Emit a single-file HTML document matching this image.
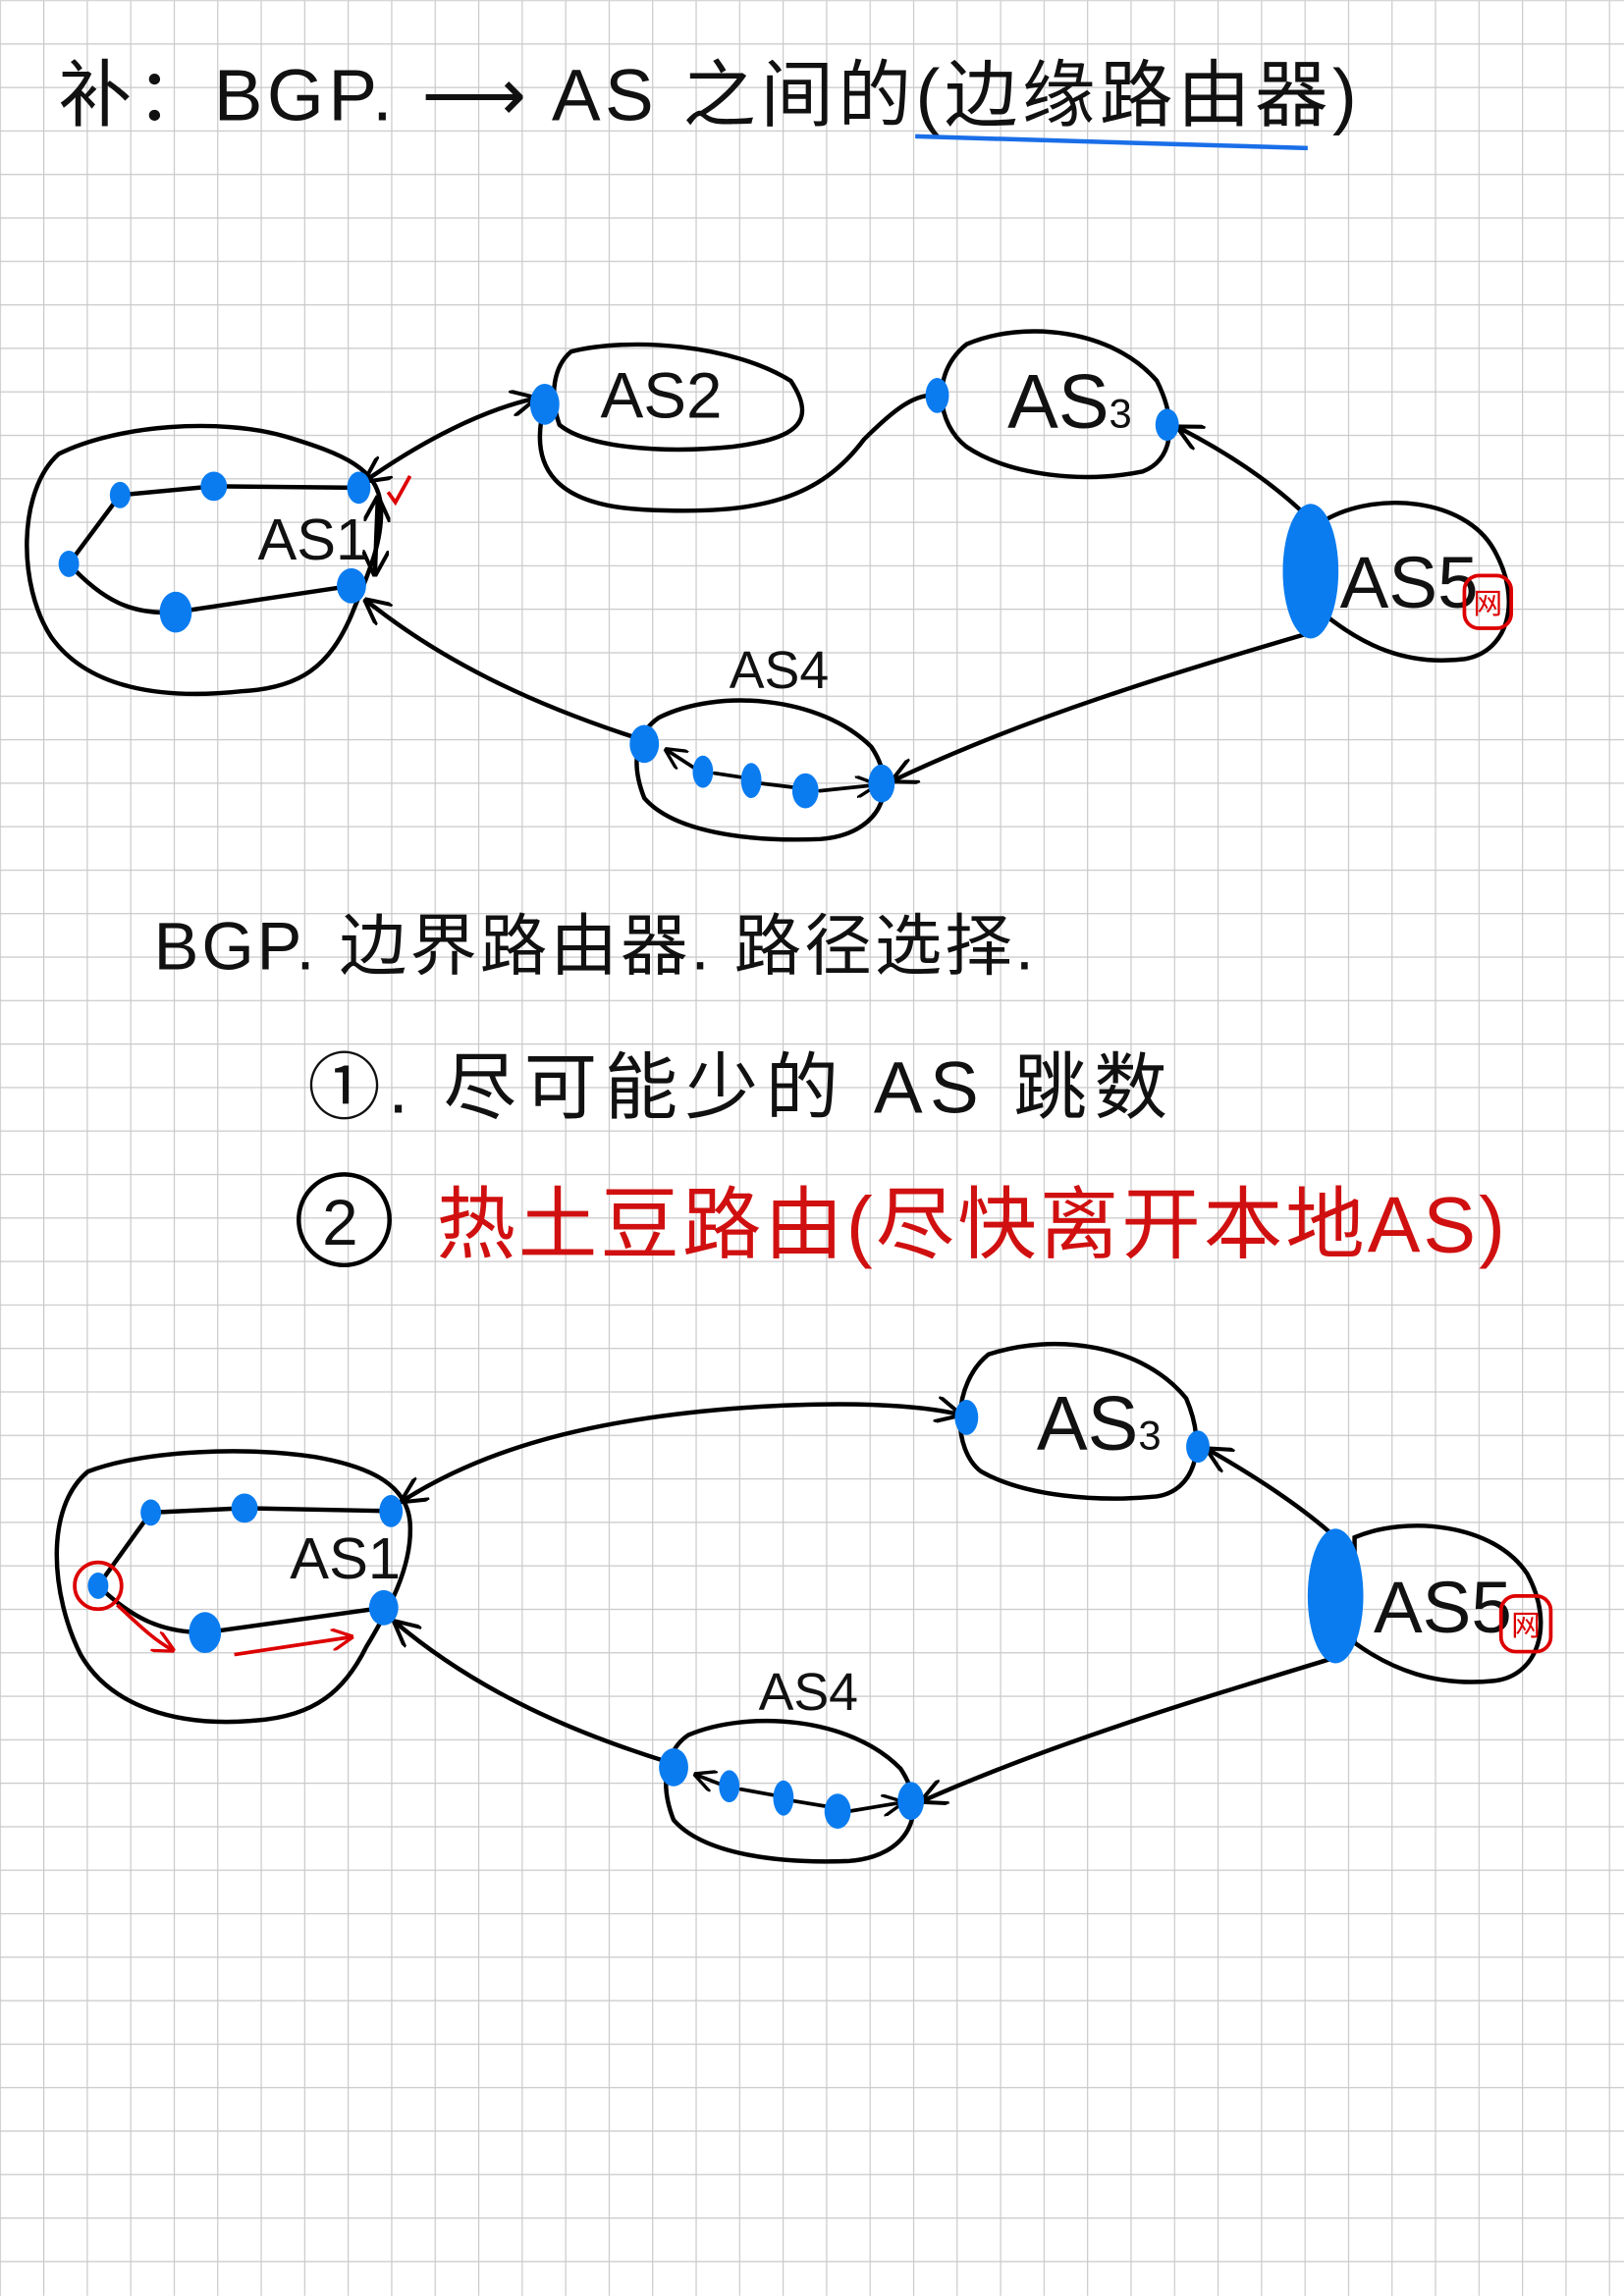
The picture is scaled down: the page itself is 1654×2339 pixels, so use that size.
<!DOCTYPE html>
<html><head><meta charset="utf-8"><style>
html,body{margin:0;padding:0;background:#fff}
svg{display:block}
text{font-family:"Liberation Sans","Noto Sans CJK SC",sans-serif}
</style></head><body>
<svg width="1654" height="2339" viewBox="0 0 1109 1568" xmlns="http://www.w3.org/2000/svg">
<defs>
<pattern id="g" x="29.5" y="29.5" width="29.7" height="29.7" patternUnits="userSpaceOnUse">
<path d="M0 0H29.7M0 0V29.7" stroke="#c9c9c9" stroke-width="1.6" fill="none"/>
</pattern>
<marker id="a" viewBox="0 0 10 10" refX="9" refY="5" markerWidth="6" markerHeight="6" orient="auto-start-reverse"><path d="M0 0L10 5L0 10" fill="none" stroke="#000" stroke-width="1.5"/></marker>
<marker id="r" viewBox="0 0 10 10" refX="9" refY="5" markerWidth="6" markerHeight="6" orient="auto"><path d="M0 0L10 5L0 10" fill="none" stroke="#d00" stroke-width="1.5"/></marker>
</defs>
<rect width="1109" height="1568" fill="#fff"/>
<rect width="1109" height="1568" fill="url(#g)"/>

<text x="40" y="82" font-size="50" fill="#111" letter-spacing="3">补：BGP. ⟶ AS 之间的(边缘路由器)</text>
<path d="M625 93 C700 96 800 98 893 101" stroke="#1a6ee8" stroke-width="3" fill="none"/>

<g fill="none" stroke="#000" stroke-width="3" stroke-linecap="round">
<path d="M40 310 C80 290 150 285 195 298 C235 310 258 320 260 345 C262 370 250 395 240 420 C225 455 205 470 165 472 C110 478 60 470 35 435 C12 400 12 335 40 310 Z"/>
<path d="M82 338 L146 332 L245 333 M82 338 L47 385 M47 385 C70 410 90 420 120 418 L240 400"/>
<path d="M390 240 C430 230 500 235 540 260 C560 290 540 300 500 305 C450 310 400 305 382 290 C375 270 378 250 390 240 Z"/>
<path d="M372 276 C360 320 380 345 440 348 C520 352 560 340 590 300 C610 280 625 268 640 270"/>
<path d="M660 235 C700 218 760 225 790 260 C805 290 800 315 780 322 C740 330 690 325 660 305 C640 290 635 255 660 235 Z"/>
<path d="M905 355 C940 335 1000 340 1020 375 C1040 410 1030 445 1000 450 C960 455 930 440 905 420 Z"/>
<path d="M450 490 C490 470 560 475 595 510 C615 540 600 570 560 573 C510 575 460 568 440 545 C430 520 435 500 450 490 Z"/>
<path d="M250 328 C290 300 330 280 365 272" marker-start="url(#a)" marker-end="url(#a)"/>
<path d="M258 340 L256 392" marker-start="url(#a)" marker-end="url(#a)"/>
<path d="M250 410 C300 450 360 480 438 505" marker-start="url(#a)"/>
<path d="M610 533 C700 490 800 460 895 432" marker-start="url(#a)"/>
<path d="M805 292 C840 310 870 330 895 355" marker-start="url(#a)"/>
<path d="M455 512 L475 525 M488 528 L508 531 M520 535 L545 538 M560 540 L598 536" marker-start="url(#a)" marker-end="url(#a)" stroke-width="2.5"/>

<path d="M60 1005 C100 990 170 988 215 995 C255 1002 278 1015 280 1040 C282 1070 265 1100 250 1125 C235 1155 215 1172 175 1175 C120 1180 75 1165 55 1130 C35 1090 30 1030 60 1005 Z"/>
<path d="M103 1033 L167 1030 L267 1032 M103 1033 L67 1083 M67 1083 C90 1105 110 1115 140 1115 L262 1098"/>
<path d="M675 925 C720 910 780 918 810 955 C825 990 815 1018 790 1022 C750 1026 700 1022 670 1005 C650 990 650 945 675 925 Z"/>
<path d="M925 1050 C960 1035 1020 1040 1043 1075 C1062 1110 1050 1145 1020 1148 C980 1152 950 1140 925 1122 Z"/>
<path d="M470 1185 C510 1168 580 1172 615 1208 C635 1238 620 1268 580 1271 C530 1273 480 1266 460 1243 C450 1218 455 1195 470 1185 Z"/>
<path d="M275 1025 C330 990 400 970 500 962 C580 956 630 960 655 966" marker-start="url(#a)" marker-end="url(#a)"/>
<path d="M270 1108 C320 1150 380 1180 458 1204" marker-start="url(#a)"/>
<path d="M630 1230 C720 1190 820 1160 912 1132" marker-start="url(#a)"/>
<path d="M825 990 C860 1010 890 1030 912 1050" marker-start="url(#a)"/>
<path d="M475 1212 L493 1219 M506 1222 L528 1226 M542 1230 L566 1234 M580 1237 L616 1231" marker-start="url(#a)" marker-end="url(#a)" stroke-width="2.5"/>
</g>

<g fill="#0a7cf0">
<ellipse cx="82" cy="338" rx="7" ry="9"/><ellipse cx="146" cy="332" rx="9" ry="10"/>
<ellipse cx="47" cy="385" rx="7" ry="9"/><ellipse cx="120" cy="418" rx="11" ry="14"/>
<ellipse cx="245" cy="333" rx="8" ry="11"/><ellipse cx="240" cy="400" rx="10" ry="12"/>
<ellipse cx="372" cy="276" rx="10" ry="14"/><ellipse cx="640" cy="270" rx="8" ry="12"/>
<ellipse cx="797" cy="290" rx="8" ry="11"/><ellipse cx="895" cy="390" rx="19" ry="46"/>
<ellipse cx="440" cy="508" rx="10" ry="13"/><ellipse cx="480" cy="527" rx="7" ry="11"/>
<ellipse cx="513" cy="533" rx="7" ry="12"/><ellipse cx="550" cy="540" rx="9" ry="12"/>
<ellipse cx="602" cy="535" rx="9" ry="13"/>
<ellipse cx="103" cy="1033" rx="7" ry="9"/><ellipse cx="167" cy="1030" rx="9" ry="10"/>
<ellipse cx="67" cy="1083" rx="7" ry="9"/><ellipse cx="140" cy="1115" rx="11" ry="14"/>
<ellipse cx="267" cy="1032" rx="8" ry="11"/><ellipse cx="262" cy="1098" rx="10" ry="12"/>
<ellipse cx="660" cy="968" rx="8" ry="12"/><ellipse cx="818" cy="988" rx="8" ry="11"/>
<ellipse cx="912" cy="1090" rx="19" ry="46"/>
<ellipse cx="460" cy="1207" rx="10" ry="13"/><ellipse cx="498" cy="1220" rx="7" ry="11"/>
<ellipse cx="535" cy="1228" rx="7" ry="12"/><ellipse cx="572" cy="1237" rx="9" ry="12"/>
<ellipse cx="622" cy="1230" rx="9" ry="13"/>
</g>

<g fill="#111">
<text x="176" y="382" font-size="40">AS1</text>
<text x="410" y="285" font-size="44">AS2</text>
<text x="688" y="292" font-size="52">AS<tspan font-size="28">3</tspan></text>
<text x="915" y="415" font-size="50">AS5</text>
<text x="498" y="470" font-size="36">AS4</text>
<text x="198" y="1078" font-size="40">AS1</text>
<text x="708" y="990" font-size="52">AS<tspan font-size="28">3</tspan></text>
<text x="938" y="1115" font-size="50">AS5</text>
<text x="518" y="1168" font-size="36">AS4</text>
<text x="105" y="662" font-size="46" letter-spacing="2">BGP. 边界路由器. 路径选择.</text>
<text x="210" y="760" font-size="50" letter-spacing="5">①. 尽可能少的 AS 跳数</text>
</g>
<g fill="none" stroke="#d00" stroke-width="2.5">
<rect x="1000" y="393" width="32" height="36" rx="10"/>
<rect x="1025" y="1090" width="34" height="38" rx="10"/>
<path d="M265 336 L270 343 L280 325"/>
<circle cx="67" cy="1083" r="16"/>
<path d="M80 1096 C95 1110 105 1120 118 1127" marker-end="url(#r)"/>
<path d="M160 1130 L240 1118" marker-end="url(#r)"/>
</g>
<g fill="#d00" font-size="20"><text x="1006" y="419">网</text><text x="1032" y="1117">网</text></g>
<circle cx="235" cy="833" r="31" fill="none" stroke="#000" stroke-width="3"/>
<text x="220" y="850" font-size="44" fill="#111">2</text>
<text x="298" y="855" font-size="54" fill="#d01010" letter-spacing="2">热土豆路由(尽快离开本地AS)</text>
</svg>
</body></html>
